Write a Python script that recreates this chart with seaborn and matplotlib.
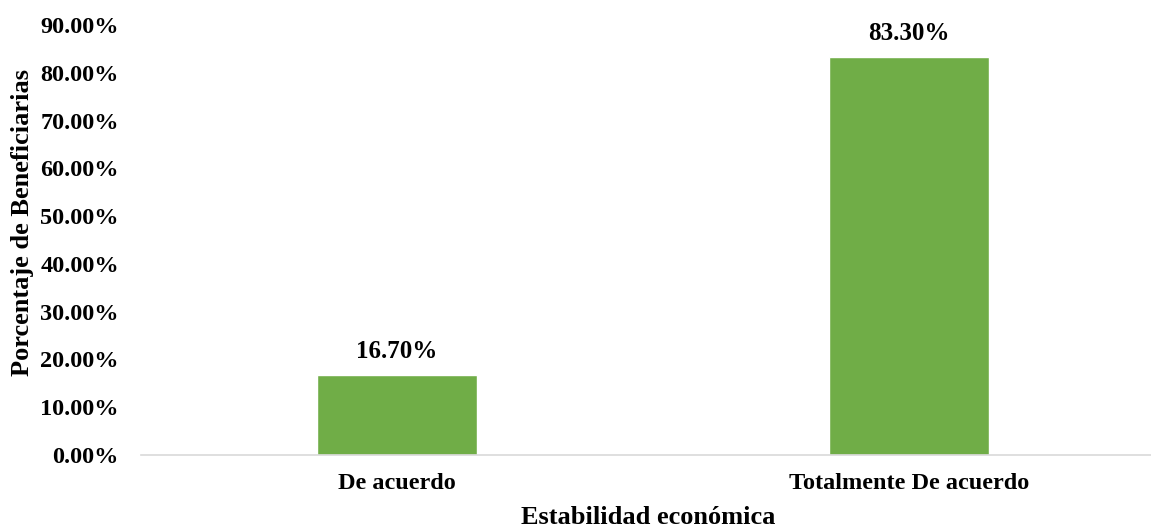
import pandas as pd
import numpy as np
import matplotlib
matplotlib.use("Agg")
import matplotlib.pyplot as plt
import seaborn as sns

# ==========================================================
# DATA
# ==========================================================

categorias = ["De acuerdo", "Totalmente De acuerdo"]
porcentajes = [16.70, 83.30]
y_ticks = [0, 10, 20, 30, 40, 50, 60, 70, 80, 90]

df = pd.DataFrame({"Categoria": categorias, "Porcentaje": porcentajes})

# ==========================================================
# STYLE
# ==========================================================

sns.set_style("white")
plt.rcParams["font.family"] = ["Liberation Serif", "DejaVu Serif"]
plt.rcParams["font.weight"] = "bold"
plt.rcParams["text.color"] = "black"
plt.rcParams["axes.labelcolor"] = "black"
plt.rcParams["xtick.color"] = "black"
plt.rcParams["ytick.color"] = "black"

fig = plt.figure(figsize=(11.51, 5.27), dpi=100)
ax = fig.add_axes([141 / 1151, 1 - 455 / 527, 1024 / 1151, 430 / 527])

sns.barplot(
    data=df,
    x="Categoria",
    y="Porcentaje",
    color="#70AD47",
    saturation=1,
    width=0.3125,
    ax=ax
)

ax.set_xlim(-0.5, 1.5)
ax.set_ylim(0, 90)
ax.set_yticks(y_ticks)
ax.set_yticklabels([f"{v:.2f}%" for v in y_ticks], fontsize=17.5, fontweight="bold")
ax.set_xticks(range(len(categorias)))
ax.set_xticklabels(categorias, fontsize=17.5, fontweight="bold")
ax.tick_params(axis="y", length=0, pad=16)
ax.tick_params(axis="x", length=0, pad=13)

for s in ["left", "top", "right"]:
    ax.spines[s].set_visible(False)
ax.spines["bottom"].set_color("#D9D9D9")
ax.spines["bottom"].set_linewidth(1.2)

ax.bar_label(
    ax.containers[0],
    labels=[f"{v:.2f}%" for v in porcentajes],
    padding=9,
    fontsize=18,
    fontweight="bold"
)

ax.set_xlabel("Estabilidad económica", fontsize=19, fontweight="bold")
ax.set_ylabel("Porcentaje de Beneficiarias", fontsize=19, fontweight="bold")
ax.xaxis.set_label_coords((648 - 141) / 1024, -(524 - 455) / 430)
ax.xaxis.label.set_va("baseline")
ax.yaxis.set_label_coords(-(141 - 34) / 1024, (455 - 223) / 430)

fig.savefig("out.png", dpi=100)
